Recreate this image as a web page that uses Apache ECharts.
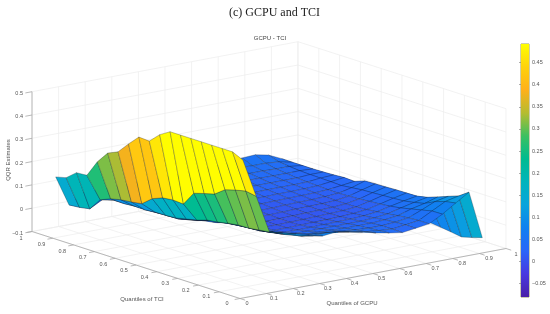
<!DOCTYPE html>
<html><head><meta charset="utf-8">
<style>html,body{margin:0;padding:0;background:#fff}#c{width:550px;height:314px;filter:blur(.35px)}</style>
<script src="https://cdn.jsdelivr.net/npm/echarts@6/dist/echarts.min.js"></script>
</head><body><div id="c"></div>
<script>
// quantile positions of the surface samples
const gcpuQuantiles=[.05,.10,.15,.20,.25,.30,.35,.40,.45,.50,.55,.60,.65,.70,.75,.80,.85,.90,.95];
const tciQuantiles=[.95,.90,.85,.80,.75,.70,.65,.60,.55,.50,.45,.40,.35,.30,.25,.20,.15,.10,.05];
// QQR estimates, one list per TCI quantile, columns follow gcpuQuantiles
const tci95=[.138,.007,.050,.050,.050,.050,.050,.050,.050,.050,.052,.054,.056,.060,.069,.072,.060,.034,-.050];
const tci90=[.149,.011,.050,.045,.045,.045,.045,.045,.045,.045,.045,.047,.050,.052,.050,.050,.045,.033,-.050];
const tci85=[.185,.019,.050,.040,.040,.040,.038,.038,.037,.037,.038,.040,.042,.042,.042,.040,.040,.033,-.050];
const tci80=[.188,.072,.060,.036,.033,.032,.032,.032,.032,.032,.033,.035,.036,.036,.035,.035,.036,.033,-.050];
const tci75=[.260,.091,.060,.036,.028,.027,.027,.027,.027,.028,.028,.030,.030,.030,.030,.030,.034,.034,-.050];
const tci70=[.312,.101,.063,.036,.023,.022,.022,.022,.022,.023,.024,.025,.026,.026,.026,.027,.033,.036,-.050];
const tci65=[.332,.106,.062,.037,.018,.017,.017,.017,.018,.018,.020,.021,.022,.022,.023,.025,.032,.039,-.050];
const tci60=[.380,.113,.066,.039,.015,.013,.012,.013,.013,.014,.016,.017,.018,.019,.020,.023,.030,.037,-.050];
const tci55=[.424,.149,.067,.040,.025,.014,.009,.009,.010,.011,.012,.014,.015,.016,.018,.022,.035,.053,-.050];
const tci50=[.421,.167,.070,.053,.037,.018,.006,.006,.007,.008,.009,.011,.012,.013,.016,.024,.040,.055,-.050];
const tci45=[.463,.172,.080,.063,.053,.033,.012,.004,.005,.006,.007,.009,.010,.012,.016,.026,.042,.056,-.052];
const tci40=[.490,.169,.090,.079,.060,.036,.012,.004,.004,.005,.006,.008,.010,.012,.017,.030,.045,.058,-.055];
const tci35=[.490,.230,.104,.085,.065,.040,.014,.006,.006,.007,.008,.009,.011,.014,.020,.033,.047,.059,-.060];
const tci30=[.490,.243,.110,.091,.071,.046,.024,.012,.011,.012,.013,.014,.015,.018,.025,.038,.050,.060,-.065];
const tci25=[.490,.255,.119,.096,.072,.049,.030,.022,.020,.020,.020,.020,.020,.024,.030,.045,.058,.069,-.070];
const tci20=[.490,.288,.126,.102,.077,.060,.045,.033,.030,.028,.026,.026,.026,.030,.037,.055,.068,.085,-.076];
const tci15=[.490,.301,.127,.106,.085,.070,.050,.048,.044,.038,.033,.030,.030,.034,.042,.065,.090,.102,-.083];
const tci10=[.490,.311,.133,.114,.092,.076,.065,.066,.060,.050,.040,.034,.030,.037,.045,.075,.105,.118,-.071];
const tci05=[.469,.303,.139,.123,.109,.093,.079,.085,.075,.063,.049,.038,.029,.037,.045,.076,.113,.149,-.057];
const surfaceRows=[tci95,tci90,tci85,tci80,tci75,tci70,tci65,tci60,tci55,tci50,tci45,tci40,tci35,tci30,tci25,tci20,tci15,tci10,tci05];
// axis ticks
const quantileTicks=[0,.1,.2,.3,.4,.5,.6,.7,.8,.9,1];
const zTicks=[-.1,0,.1,.2,.3,.4,.5];
const barTicks=[-.05,0,.05,.1,.15,.2,.25,.3,.35,.4,.45];
const barMin=-.08, barMax=.492;
const surfaceColors=['#4a20a8','#4838e0','#2a66f8','#1080f0','#08a4dc','#00b4bc','#00bb90','#3cc060','#b5bc30','#ffb01a','#ffd20c','#ffff00'];

// oblique view of the quantile box (matches the 3-D camera of the figure)
const O=[240,298.5], VT=[-208,-67], VG=[266,-50], VZ=233, Z0=-.1, Z1=.5;
function proj(t,g,z){return [O[0]+VT[0]*t+VG[0]*g, O[1]+VT[1]*t+VG[1]*g-VZ*(z-Z0)];}
const fmt=v=>String(+v.toFixed(2)).replace('-','\u2212');
const colorOf=z=>echarts.color.lerp(Math.min(1,Math.max(0,(z-barMin)/(barMax-barMin))),surfaceColors);

// surface cells, far to near
const cells=[];
for(let i=0;i<tciQuantiles.length-1;i++)for(let j=gcpuQuantiles.length-2;j>=0;j--)cells.push([i,j]);

// box guides
const guides=[];
quantileTicks.forEach(q=>{
  guides.push([q,0,Z0,q,1,Z0,0]);   // floor, along GCPU
  guides.push([0,q,Z0,1,q,Z0,0]);   // floor, along TCI
  guides.push([1,q,Z0,1,q,Z1,0]);   // TCI=1 wall
  guides.push([q,1,Z0,q,1,Z1,0]);   // GCPU=1 wall
});
zTicks.forEach(z=>{guides.push([1,0,z,1,1,z,0]);guides.push([1,1,z,0,1,z,0]);});
guides.push([1,0,Z0,1,0,Z1,1],[0,0,Z0,1,0,Z0,1],[0,0,Z0,0,1,Z0,1]);
quantileTicks.forEach(q=>{
  guides.push([q,0,Z0,q,-.02,Z0,1]);
  guides.push([0,q,Z0,-.025,q,Z0,1]);
});
zTicks.forEach(z=>guides.push([1,0,z,1,-.025,z,1]));

const labelFont='"Liberation Sans",Arial,sans-serif';
const tickItems=[];
quantileTicks.forEach(q=>{tickItems.push(['t',q]);tickItems.push(['g',q]);});
zTicks.forEach(z=>tickItems.push(['z',z]));

const option={
  animation:false,backgroundColor:'#fff',
  grid:{left:521,top:44,width:8,height:253,show:true,borderColor:'#9a9a60',borderWidth:1,backgroundColor:'transparent'},
  xAxis:{type:'value',min:0,max:1,show:false},
  yAxis:{type:'value',position:'right',min:barMin,max:barMax,splitLine:{show:false},axisLine:{show:false},
    axisTick:{show:true,inside:true,length:2,customValues:barTicks,lineStyle:{color:'#777',width:.6}},
    axisLabel:{customValues:barTicks,fontFamily:labelFont,fontSize:5.5,color:'#555',margin:3,formatter:v=>fmt(v)}},
  series:[
    {type:'custom',coordinateSystem:'none',silent:true,z:1,data:guides,
     renderItem:(p,api)=>{
       const d=guides[p.dataIndex],a=proj(d[0],d[1],d[2]),b=proj(d[3],d[4],d[5]);
       return {type:'line',shape:{x1:a[0],y1:a[1],x2:b[0],y2:b[1]},
         style:{stroke:d[6]?'#a8a8a8':'#ececec',lineWidth:d[6]?.8:.7}};
     }},
    {type:'custom',coordinateSystem:'none',silent:true,z:3,data:tickItems.map((d,i)=>i),
     renderItem:(p,api)=>{
       const [k,v]=tickItems[p.dataIndex];let x,y,align='center';
       if(k==='t'){x=227-206*v;y=303-65*v;}
       else if(k==='g'){x=247+269*v;y=303-49*v;}
       else{const q=proj(1,-.03,v);x=q[0]-1;y=q[1];align='right';}
       return {type:'text',style:{x,y,text:fmt(v),textAlign:align,textVerticalAlign:'middle',
         font:'5.5px '+labelFont,fill:'#555'}};
     }},
    {type:'custom',coordinateSystem:'none',silent:true,z:2,data:cells.map((c,i)=>i),clip:false,
     renderItem:(p,api)=>{
       const [i,j]=cells[p.dataIndex];
       const t0=tciQuantiles[i],t1=tciQuantiles[i+1],g0=gcpuQuantiles[j],g1=gcpuQuantiles[j+1];
       const R=surfaceRows;
       const pts=[proj(t0,g0,R[i][j]),proj(t0,g1,R[i][j+1]),proj(t1,g1,R[i+1][j+1]),proj(t1,g0,R[i+1][j])];
       return {type:'polygon',z2:p.dataIndex,shape:{points:pts},
         style:{fill:colorOf(R[i+1][j]),stroke:'rgba(20,25,40,.55)',lineWidth:.5,lineJoin:'round'}};
     }},
    {type:'custom',coordinateSystem:'cartesian2d',silent:true,z:2,data:[[0,barMin,1,barMax]],
     renderItem:(p,api)=>{
       const a=api.coord([0,barMax]),b=api.coord([1,barMin]);
       return {type:'rect',shape:{x:a[0],y:a[1],width:b[0]-a[0],height:b[1]-a[1]},
         style:{fill:new echarts.graphic.LinearGradient(0,1,0,0,surfaceColors.map((c,i)=>({offset:i/(surfaceColors.length-1),color:c})))}};
     }}
  ],
  graphic:[
    {type:'text',x:274.5,y:13,style:{text:'(c) GCPU and TCI',textAlign:'center',textVerticalAlign:'middle',font:'12px "Liberation Serif",serif',fill:'#222'}},
    {type:'text',x:270,y:38.7,style:{text:'GCPU - TCI',textAlign:'center',textVerticalAlign:'middle',font:'6px '+labelFont,fill:'#444'}},
    {type:'text',x:8,y:160,rotation:Math.PI/2,style:{text:'QQR Estimates',textAlign:'center',textVerticalAlign:'middle',font:'6px '+labelFont,fill:'#555'}},
    {type:'text',x:142,y:299,style:{text:'Quantiles of TCI',textAlign:'center',textVerticalAlign:'middle',font:'6px '+labelFont,fill:'#555'}},
    {type:'text',x:352,y:303,style:{text:'Quantiles of GCPU',textAlign:'center',textVerticalAlign:'middle',font:'6px '+labelFont,fill:'#555'}}
  ]
};
const chart=echarts.init(document.getElementById('c'),null,{renderer:'canvas',width:550,height:314});
chart.setOption(option);
</script></body></html>
